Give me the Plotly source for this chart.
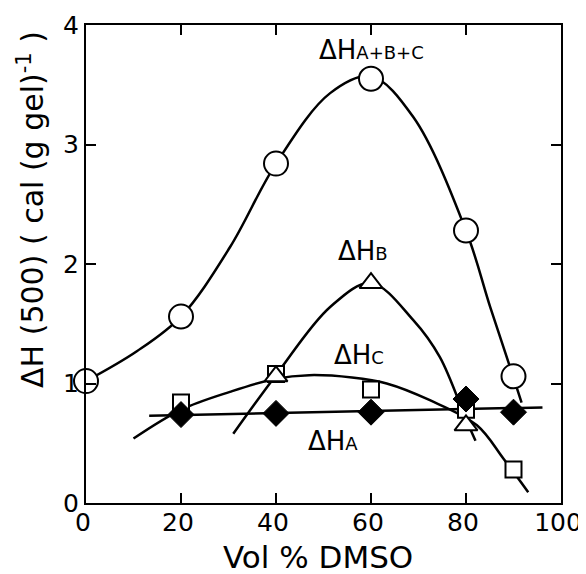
import plotly.graph_objects as go

# --- data ---
vol_abc = [0, 20, 40, 60, 80, 90]
dh_abc = [1.02, 1.56, 2.84, 3.55, 2.28, 1.06]

vol_b = [40, 60, 80]
dh_b = [1.06, 1.84, 0.65]

vol_c = [20, 40, 60, 80, 90]
dh_c = [0.84, 1.08, 0.95, 0.78, 0.28]

vol_a = [20, 40, 60, 80, 90]
dh_a = [0.74, 0.75, 0.76, 0.87, 0.76]

# hand-drawn guide curves
curve_abc_x = [0, 10.7, 20, 30.3, 40, 51.4, 60, 68.9, 80, 85.1, 90, 91.7]
curve_abc_y = [1.02, 1.27, 1.56, 2.14, 2.84, 3.43, 3.57, 3.23, 2.28, 1.64, 1.05, 0.84]

curve_b_x = [31, 40, 51.4, 60, 68.9, 74.5, 80, 82]
curve_b_y = [0.58, 1.07, 1.64, 1.84, 1.53, 1.22, 0.70, 0.52]

curve_c_x = [10, 20, 30.3, 39.9, 47, 56, 63.3, 72.4, 82.3, 87.9, 93.1]
curve_c_y = [0.54, 0.78, 0.93, 1.04, 1.07, 1.05, 1.00, 0.86, 0.65, 0.37, 0.09]

curve_a_x = [13.3, 96.1]
curve_a_y = [0.73, 0.80]

x_ticks = [0, 20, 40, 60, 80, 100]
y_ticks = [0, 1, 2, 3, 4]

FONT = "DejaVu Sans"
fig = go.Figure()

line_style = dict(color="black", width=2.5, shape="spline", smoothing=1.0)
for cx, cy in [(curve_abc_x, curve_abc_y), (curve_b_x, curve_b_y), (curve_c_x, curve_c_y)]:
    fig.add_trace(go.Scatter(x=cx, y=cy, mode="lines", line=line_style, hoverinfo="skip",
                             showlegend=False, cliponaxis=False))
fig.add_trace(go.Scatter(x=curve_a_x, y=curve_a_y, mode="lines",
                         line=dict(color="black", width=2.5), showlegend=False, cliponaxis=False))

fig.add_trace(go.Scatter(x=vol_abc, y=dh_abc, mode="markers", showlegend=False, cliponaxis=False,
                         marker=dict(symbol="circle", size=24, color="white",
                                     line=dict(color="black", width=2))))
fig.add_trace(go.Scatter(x=vol_c, y=dh_c, mode="markers", showlegend=False, cliponaxis=False,
                         marker=dict(symbol="square", size=16, color="white",
                                     line=dict(color="black", width=2))))
fig.add_trace(go.Scatter(x=vol_b, y=dh_b, mode="markers", showlegend=False, cliponaxis=False,
                         marker=dict(symbol="triangle-up", size=20, color="white",
                                     line=dict(color="black", width=2))))
fig.add_trace(go.Scatter(x=vol_a, y=dh_a, mode="markers", showlegend=False, cliponaxis=False,
                         marker=dict(symbol="diamond", size=20, color="black",
                                     line=dict(color="black", width=1))))

sub = "<span style='font-size:18px'>{}</span>"
labels = [
    (60, 3.79, "ΔH" + sub.format("A+B+C")),
    (58.3, 2.11, "ΔH" + sub.format("B")),
    (57.5, 1.24, "ΔH" + sub.format("C")),
    (52, 0.52, "ΔH" + sub.format("A")),
]
for lx, ly, txt in labels:
    fig.add_annotation(x=lx, y=ly, text=txt, showarrow=False,
                       font=dict(family=FONT, size=26, color="black"))

fig.add_annotation(xref="paper", yref="paper", x=-0.116, y=0.615, xanchor="center", yanchor="middle",
                   text="ΔH (500) ( cal (g gel)<sup>-1</sup> )", textangle=-90, showarrow=False,
                   font=dict(family=FONT, size=30, color="black"))
fig.add_annotation(xref="paper", yref="paper", x=0.488, y=-0.112, xanchor="center", yanchor="middle",
                   text="Vol % DMSO", showarrow=False,
                   font=dict(family=FONT, size=31, color="black"))

axis_common = dict(showline=True, linecolor="black", linewidth=2, mirror="ticks",
                   ticks="inside", ticklen=10, tickwidth=2, tickcolor="black",
                   showgrid=False, zeroline=False, automargin=False,
                   ticklabeloverflow="allow",
                   tickfont=dict(family=FONT, size=25, color="black"))

fig.update_xaxes(range=[0, 100], tickvals=x_ticks, ticktext=[str(v) for v in x_ticks],
                 ticklabelstandoff=-4, ticklabelshift=-3, **axis_common)
fig.update_yaxes(range=[0, 4], tickvals=y_ticks, ticktext=[str(v) for v in y_ticks],
                 **axis_common)

# page body adds an 8px offset; size the figure so the plot frame lands where the reference has it
fig.update_layout(width=578, height=566, margin=dict(l=78, r=25, t=17, b=71),
                  plot_bgcolor="white", paper_bgcolor="white")

fig.write_html("out.html")
